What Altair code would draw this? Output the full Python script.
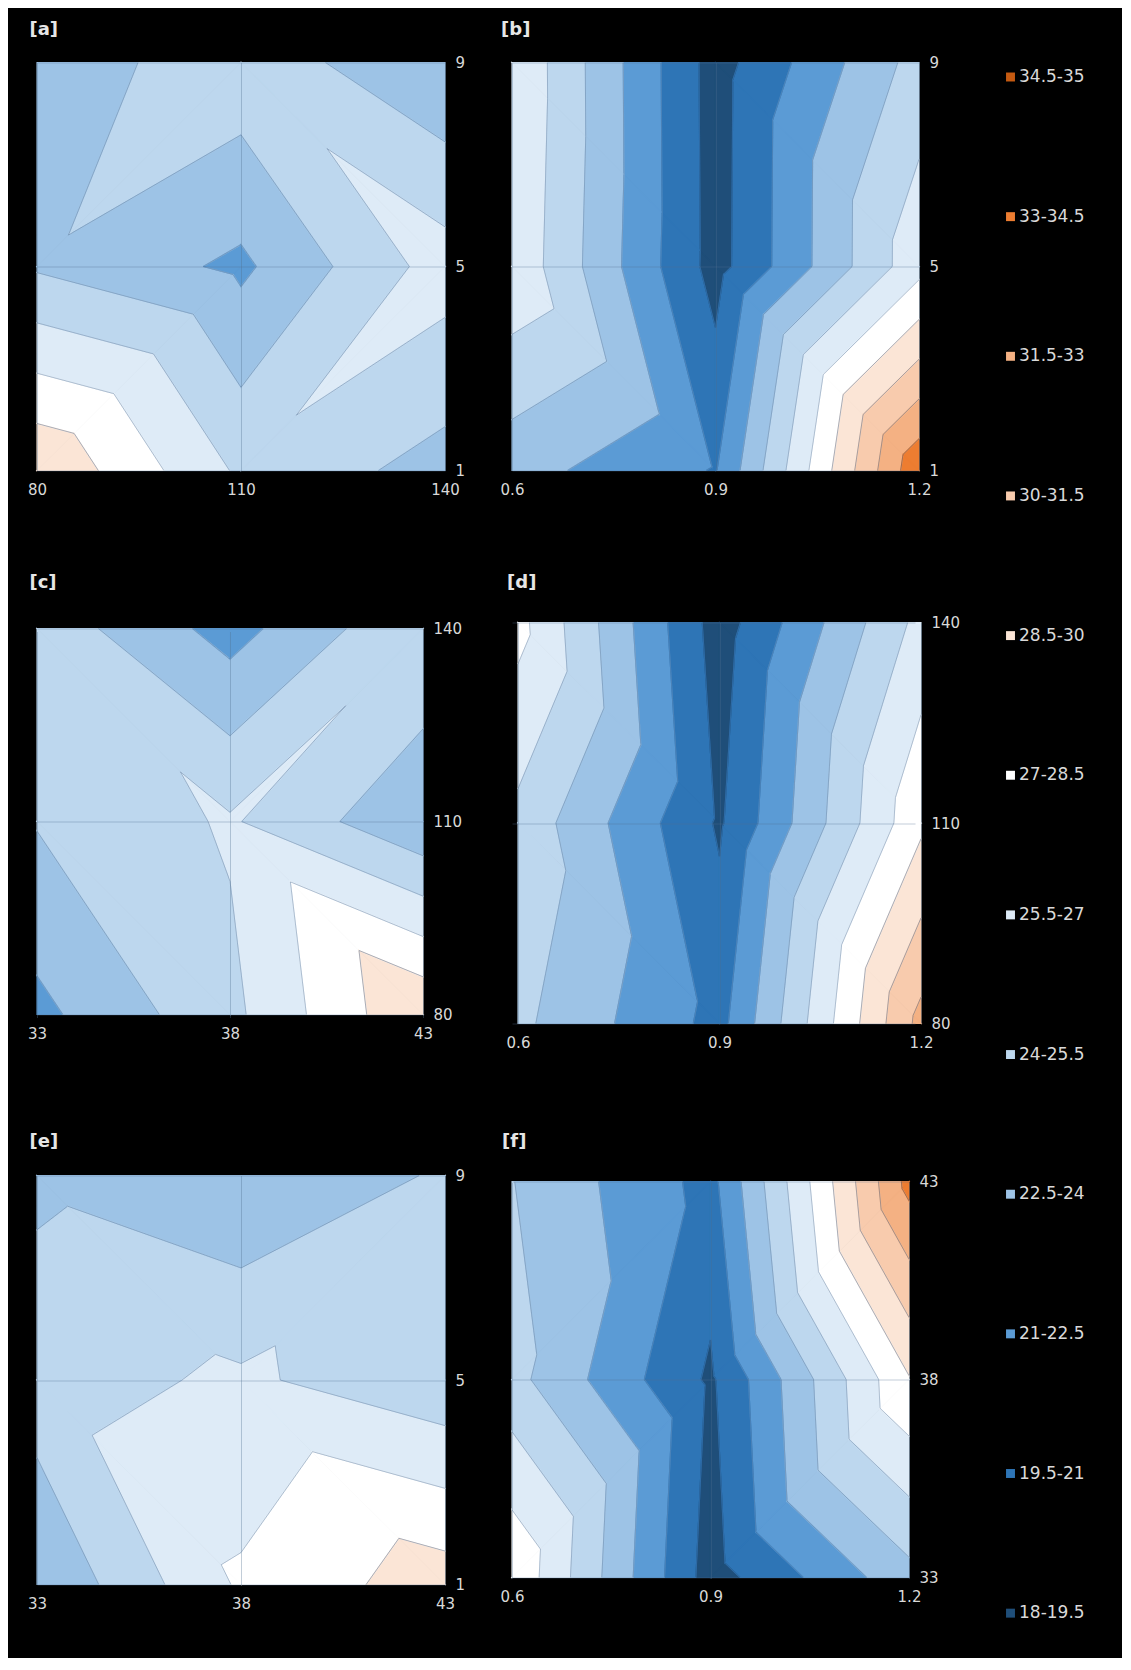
import altair as alt
import pandas as pd

# ---------------- bands / legend ----------------
BAND_EDGES = [18.0, 19.5, 21.0, 22.5, 24.0, 25.5, 27.0, 28.5, 30.0, 31.5, 33.0, 34.5, 35.0]
BAND_LABELS = ["18-19.5", "19.5-21", "21-22.5", "22.5-24", "24-25.5", "25.5-27",
               "27-28.5", "28.5-30", "30-31.5", "31.5-33", "33-34.5", "34.5-35"]
BAND_COLORS = ["#1f4e79", "#2e75b6", "#5b9bd5", "#9dc3e6", "#bdd7ee", "#deebf7",
               "#ffffff", "#fbe5d6", "#f8cbad", "#f4b183", "#ed7d31", "#c55a11"]

# ---------------- panel grids (rows from lowest y to highest y) ----------------
A_X = [80, 110, 140]
A_Y = [1, 5, 9]
A_Z_ROW1 = [29.9, 25.24, 23.4]
A_Z_ROW2 = [23.82, 22.2, 26.2]
A_Z_ROW3 = [23.03, 24.99, 22.6]

B_X = [0.6, 0.9, 1.2]
B_Y = [1, 5, 9]
B_Z_ROW1 = [23.1, 20.9, 34.2]
B_Z_ROW2 = [26.7, 18.9, 26.5]
B_Z_ROW3 = [26.9, 18.85, 24.6]

C_X = [33, 38, 43]
C_Y = [80, 110, 140]
C_Z_ROW1 = [22.1, 25.1, 29.9]
C_Z_ROW2 = [24.1, 25.68, 22.73]
C_Z_ROW3 = [24.98, 21.9, 25.38]

D_X = [0.6, 0.9, 1.2]
D_Y = [80, 110, 140]
D_Z_ROW1 = [24.34, 20.5, 32.0]
D_Z_ROW2 = [25.09, 19.3, 28.2]
D_Z_ROW3 = [27.5, 18.75, 25.98]

E_X = [33, 38, 43]
E_Y = [1, 5, 9]
E_Z_ROW1 = [22.6, 27.23, 29.3]
E_Z_ROW2 = [24.86, 25.76, 24.41]
E_Z_ROW3 = [23.69, 22.55, 24.21]

F_X = [0.6, 0.9, 1.2]
F_Y = [33, 38, 43]
F_Z_ROW1 = [28.3, 18.8, 23.5]
F_Z_ROW2 = [24.5, 19.25, 28.4]
F_Z_ROW3 = [24.05, 20.5, 33.5]

TEXT = "#d9d9d9"
FONT = "DejaVu Sans"


def tri_split(xs, ys, zrows):
    tris = []
    for j in range(len(ys) - 1):
        for i in range(len(xs) - 1):
            p00 = (xs[i], ys[j], zrows[j][i])
            p10 = (xs[i + 1], ys[j], zrows[j][i + 1])
            p01 = (xs[i], ys[j + 1], zrows[j + 1][i])
            p11 = (xs[i + 1], ys[j + 1], zrows[j + 1][i + 1])
            if p00[2] + p11[2] >= p10[2] + p01[2]:
                tris += [(p00, p10, p11), (p00, p11, p01)]
            else:
                tris += [(p10, p11, p01), (p10, p01, p00)]
    return tris


def clip(poly, level, keep_above):
    out = []
    n = len(poly)
    for i in range(n):
        p, q = poly[i], poly[(i + 1) % n]
        pin = p[2] >= level if keep_above else p[2] <= level
        qin = q[2] >= level if keep_above else q[2] <= level
        if pin:
            out.append(p)
        if pin != qin:
            t = (level - p[2]) / (q[2] - p[2])
            out.append((p[0] + t * (q[0] - p[0]), p[1] + t * (q[1] - p[1]), level))
    return out


def build(name, xs, ys, zrows):
    polys, segs = [], []
    pid = 0
    for t in tri_split(xs, ys, zrows):
        for b in range(len(BAND_LABELS)):
            poly = clip(list(t), BAND_EDGES[b], True)
            if len(poly) >= 3:
                poly = clip(poly, BAND_EDGES[b + 1], False)
            if len(poly) < 3:
                continue
            area = 0.0
            for k in range(len(poly)):
                x1, y1, _ = poly[k]
                x2, y2, _ = poly[(k + 1) % len(poly)]
                area += x1 * y2 - x2 * y1
            if abs(area) < 1e-12:
                continue
            for k, (x, y, _) in enumerate(poly):
                polys.append({"pid": f"{name}{pid}", "k": k, "x": x, "y": y,
                              "band": BAND_LABELS[b]})
            pid += 1
        for lev in BAND_EDGES[1:-1]:
            pts = []
            for a_, b_ in ((t[0], t[1]), (t[1], t[2]), (t[2], t[0])):
                if (a_[2] - lev) * (b_[2] - lev) < 0:
                    s = (lev - a_[2]) / (b_[2] - a_[2])
                    pts.append((a_[0] + s * (b_[0] - a_[0]), a_[1] + s * (b_[1] - a_[1])))
            if len(pts) == 2:
                segs.append({"x": pts[0][0], "y": pts[0][1], "x2": pts[1][0], "y2": pts[1][1]})
    return pd.DataFrame(polys), pd.DataFrame(segs)


color_scale = alt.Scale(domain=BAND_LABELS[::-1], range=BAND_COLORS[::-1])
legend = alt.Legend(orient="none", legendX=965, legendY=6, title=None,
                    symbolType="square", symbolSize=80, symbolStrokeWidth=0,
                    labelColor=TEXT, labelFont=FONT, labelFontSize=17, labelOffset=0,
                    rowPadding=121.65, padding=0, direction="vertical")


def panel(name, xs, ys, zrows, w, h, title, toff, tdx, fmt,
          xrange=None, yrange=None, xoffset=0):
    poly_df, seg_df = build(name, xs, ys, zrows)
    xs_kw = dict(domain=[xs[0], xs[-1]], nice=False, zero=False)
    ys_kw = dict(domain=[ys[0], ys[-1]], nice=False, zero=False)
    if xrange is not None:
        xs_kw["range"] = xrange
    if yrange is not None:
        ys_kw["range"] = yrange
    xscale = alt.Scale(**xs_kw)
    yscale = alt.Scale(**ys_kw)
    common = dict(title=None, grid=True, gridColor="#4f6f8f", gridOpacity=0.35,
                  gridWidth=1, domain=False, ticks=False, labelColor=TEXT,
                  labelFont=FONT, labelFontSize=15, zindex=1)
    xaxis = alt.Axis(values=xs, format=fmt, labelFlush=False, labelPadding=12,
                     offset=xoffset, **common)
    yaxis = alt.Axis(values=ys, format="d", orient="right", labelPadding=10, **common)
    enc = dict(
        x=alt.X("x:Q", scale=xscale, axis=xaxis),
        y=alt.Y("y:Q", scale=yscale, axis=yaxis),
        color=alt.Color("band:N", scale=color_scale, legend=legend),
        detail="pid:N",
        order="k:Q",
    )
    fills = alt.Chart(poly_df).mark_line(filled=True, interpolate="linear-closed").encode(**enc)
    edges = alt.Chart(poly_df).mark_line(interpolate="linear-closed", strokeWidth=1.1).encode(**enc)
    lines = alt.Chart(seg_df).mark_rule(color="#2f5b8a", strokeWidth=0.8, opacity=0.5).encode(
        x=alt.X("x:Q", scale=xscale, axis=xaxis),
        y=alt.Y("y:Q", scale=yscale, axis=yaxis),
        x2="x2:Q",
        y2="y2:Q",
    )
    return alt.layer(fills, edges, lines).properties(
        width=w, height=h,
        title=alt.TitleParams(text=title, anchor="start", offset=toff, dx=tdx,
                              font=FONT, fontSize=18, fontWeight="bold", color="#e6e6e6"),
    )


pa = panel("a", A_X, A_Y, [A_Z_ROW1, A_Z_ROW2, A_Z_ROW3], 408, 408, "[a]", 16.5, 2, "d")
pb = panel("b", B_X, B_Y, [B_Z_ROW1, B_Z_ROW2, B_Z_ROW3], 407, 408, "[b]", 16.5, 1, ".1f")
pc = panel("c", C_X, C_Y, [C_Z_ROW1, C_Z_ROW2, C_Z_ROW3], 386, 401, "[c]", 30, 2, "d",
           yrange=[392, 6], xoffset=-9)
pd_ = panel("d", D_X, D_Y, [D_Z_ROW1, D_Z_ROW2, D_Z_ROW3], 409, 401, "[d]", 23.5, 1, ".1f",
            xrange=[6, 409])
pe = panel("e", E_X, E_Y, [E_Z_ROW1, E_Z_ROW2, E_Z_ROW3], 408, 409, "[e]", 18, 2, "d")
pf = panel("f", F_X, F_Y, [F_Z_ROW1, F_Z_ROW2, F_Z_ROW3], 397, 409, "[f]", 24, 2, ".1f",
           yrange=[402, 6], xoffset=-7)

chart = alt.concat(
    pa, pb,
    pc, pd_,
    pe, pf,
    columns=2,
    spacing=alt.RowColnumber(row=152, column=67),
    align="each",
    bounds="flush",
).properties(
    background="black",
    padding={"left": 19, "top": 12.5, "right": 37, "bottom": 36},
).configure_view(stroke=None)

chart.save("out.html", embed_options={"renderer": "svg", "actions": False})
